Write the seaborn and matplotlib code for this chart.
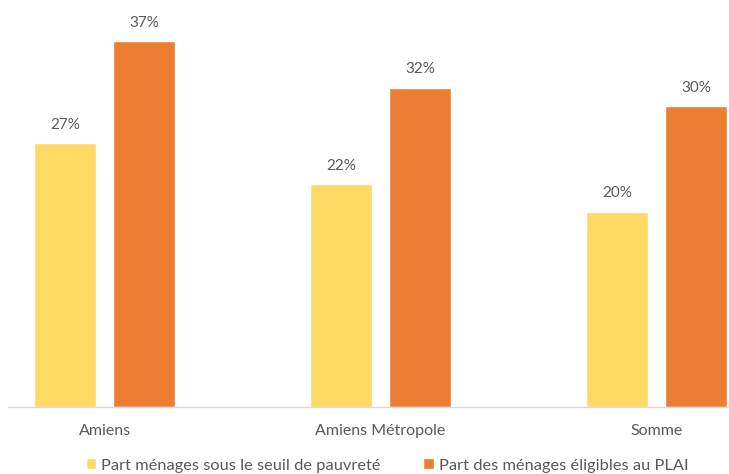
import matplotlib
matplotlib.use("Agg")
import matplotlib.pyplot as plt
import seaborn as sns
import pandas as pd
from matplotlib.patches import Patch

categories = ["Amiens", "Amiens Métropole", "Somme"]
series_names = ["Part ménages sous le seuil de pauvreté", "Part des ménages éligibles au PLAI"]
poverty = [26.6, 22.5, 19.7]
plai = [36.9, 32.2, 30.3]
colors = ["#FED966", "#ED7D31"]

rows = []
for c, v in zip(categories, poverty):
    rows.append({"cat": c, "serie": series_names[0], "val": v})
for c, v in zip(categories, plai):
    rows.append({"cat": c, "serie": series_names[1], "val": v})
df = pd.DataFrame(rows)

sns.set_style("white")
plt.rcParams["font.family"] = ["Lato", "DejaVu Sans"]

fig = plt.figure(figsize=(7.29, 4.74), dpi=100)
ax = fig.add_axes([8/729, 1-407/474, 1-8/729, 407/474])
sns.barplot(data=df, x="cat", y="val", hue="serie", palette=colors,
            width=0.5725, gap=0.215, ax=ax, legend=False, saturation=1)

for cont in ax.containers:
    ax.bar_label(cont, labels=[f"{round(b.get_height()):d}%" for b in cont],
                 padding=8, fontsize=11, color="#595959")

ax.set_xlim(-0.35, 2.263)
ax.set_ylim(0, 407/9.92)
ax.set_xlabel("")
ax.set_ylabel("")
ax.set_yticks([])
for s in ["top", "right", "left"]:
    ax.spines[s].set_visible(False)
ax.spines["bottom"].set_color("#D9D9D9")
ax.spines["bottom"].set_linewidth(1)
ax.tick_params(axis="x", length=0, pad=12, labelsize=11.5, labelcolor="#595959")

handles = [Patch(facecolor=colors[0]), Patch(facecolor=colors[1])]
fig.legend(handles, series_names, loc="center", bbox_to_anchor=(387/729, 1-465.5/474),
           ncol=2, frameon=False, fontsize=11.8, labelcolor="#595959",
           handlelength=0.65, handleheight=0.65, handletextpad=0.3, columnspacing=2.6,
           borderpad=0.1)

fig.savefig("out.png", dpi=100)
